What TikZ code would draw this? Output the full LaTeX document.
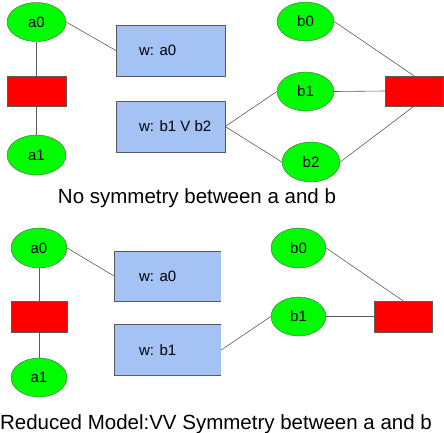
\documentclass[tikz,border=0pt]{standalone}
\usepackage{fontspec}
\setmainfont{Liberation Sans}
\usetikzlibrary{shapes.geometric,positioning}

\definecolor{vargreen}{RGB}{0,252,0}
\definecolor{facred}{RGB}{255,0,0}
\definecolor{wblue}{RGB}{164,194,244}
\definecolor{edgegray}{RGB}{90,90,90}

\tikzset{
  varnode/.style={ellipse, draw=edgegray, fill=vargreen, inner sep=0pt, font=\fontsize{15}{18}\selectfont},
  factor/.style={rectangle, draw=edgegray, fill=facred, inner sep=0pt},
  wbox/.style={rectangle, fill=wblue, inner sep=0pt},
  wtext/.style={inner sep=0pt, font=\fontsize{15}{18}\selectfont},
  caption/.style={anchor=base, inner sep=0pt, font=\fontsize{20.5}{24}\selectfont},
  link/.style={draw=edgegray, line width=0.6pt}
}

\begin{document}
\begin{tikzpicture}[x=1pt,y=1pt,yscale=-1,xscale=1]
\useasboundingbox (0,0) rectangle (444,432);

%Top: no symmetry
\node [varnode, minimum width=59, minimum height=39] (ta0) at (36.5,22) {a0};
\node [factor, minimum width=59, minimum height=30] (tfa) at (36.5,91) {};
\node [varnode, minimum width=59, minimum height=40] (ta1) at (36.5,155) {a1};
\node [wbox, draw=edgegray, minimum width=109, minimum height=51] (twa) at (170.5,50.5) {};
\node [wtext, right=23pt of twa.west] (twatext) {w: a0};
\node [wbox, draw=edgegray, minimum width=109, minimum height=51] (twb) at (170.5,126.5) {};
\node [wtext, right=23pt of twb.west] (twbtext) {w: b1 V b2};
\node [varnode, minimum width=57, minimum height=39] (tb0) at (305.5,21.5) {b0};
\node [varnode, minimum width=57, minimum height=39] (tb1) at (305.5,91.5) {b1};
\node [varnode, minimum width=58, minimum height=40] (tb2) at (311,162) {b2};
\node [factor, minimum width=58, minimum height=30] (tfb) at (414,91) {};

%Straight Lines
\draw [link] (ta0) -- (tfa);
\draw [link] (tfa) -- (ta1);
\draw [link] (ta0.east) -- (twa.west);
\draw [link] (twb.east) -- (tb1.west);
\draw [link] (twb.east) -- (tb2.west);
\draw [link] (tb0.east) -- (tfb.north);
\draw [link] (tb1.east) -- (tfb.west);
\draw [link] (tb2.east) -- (tfb.south);

% Text Node
\node [caption] (tcap) at (197,203) {No symmetry between a and b};

%Bottom: reduced model
\node [varnode, minimum width=56, minimum height=40] (ba0) at (39,248) {a0};
\node [factor, minimum width=56, minimum height=31] (bfa) at (39,316.5) {};
\node [varnode, minimum width=56, minimum height=39] (ba1) at (39,377.5) {a1};
\node [wbox, minimum width=106, minimum height=49] (bwa) at (168,276.5) {};
\draw [edgegray, line width=0.8pt] (bwa.north east) -- (bwa.north west) -- (bwa.south west) -- (bwa.south east);
\node [wtext, right=24pt of bwa.west] (bwatext) {w: a0};
\node [wbox, minimum width=106, minimum height=50] (bwb) at (168,350) {};
\draw [edgegray, line width=0.8pt] (bwb.north east) -- (bwb.north west) -- (bwb.south west) -- (bwb.south east);
\node [wtext, right=24pt of bwb.west] (bwbtext) {w: b1};
\node [varnode, minimum width=55, minimum height=40] (bb0) at (298.5,248) {b0};
\node [varnode, minimum width=55, minimum height=39] (bb1) at (298.5,316.5) {b1};
\node [factor, minimum width=58, minimum height=31] (bfb) at (403,316.5) {};

%Straight Lines
\draw [link] (ba0) -- (bfa);
\draw [link] (bfa) -- (ba1);
\draw [link] (ba0.east) -- (bwa.west);
\draw [link] (bwb.east) -- (bb1.west);
\draw [link] (bb0.east) -- (bfb.north);
\draw [link] (bb1.east) -- (bfb.west);

% Text Node
\node [caption] (bcap) at (216,429) {Reduced Model:VV Symmetry between a and b};

\end{tikzpicture}
\end{document}
